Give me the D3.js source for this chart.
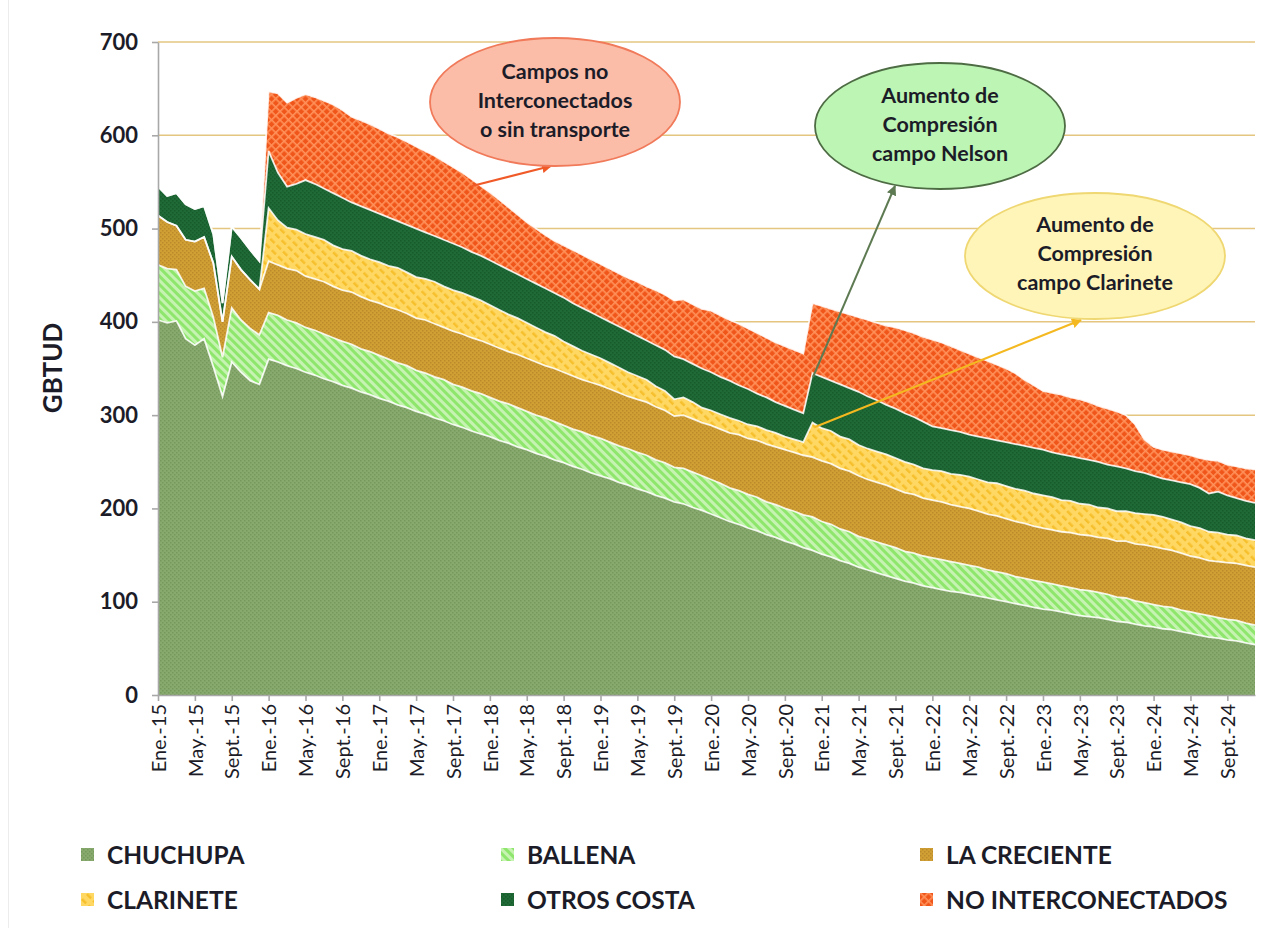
<!DOCTYPE html>
<html>
<head>
<meta charset="utf-8">
<script src="https://cdn.jsdelivr.net/npm/d3@7"></script>
<style>
  body { margin: 0; background: #fff; }
  #chart { width: 1280px; height: 928px; }
  text { font-family: Lato, 'Open Sans', sans-serif; fill: #1c1c28; }
</style>
</head>
<body>
<div id="chart"></div>
<script>
(function () {

    // categorias: meses de Ene.-15 a Dic.-24
    const meses = ['Ene.', 'Feb.', 'Mar.', 'Abr.', 'May.', 'Jun.', 'Jul.', 'Ago.', 'Sept.', 'Oct.', 'Nov.', 'Dic.'];
    const anios = ['15', '16', '17', '18', '19', '20', '21', '22', '23', '24'];
    const categorias = anios.flatMap(a => meses.map(m => `${m}-${a}`));
    const etiquetasX = categorias.filter((d, i) => i % 4 === 0);
    const ticksY = [0, 100, 200, 300, 400, 500, 600, 700];

    // GBTUD por campo
    const chuchupa = [402, 399, 401, 382, 375, 382, 352, 320, 357, 346, 337, 333, 360,
        357, 353, 350, 346, 343, 339, 336, 332, 329, 325, 322, 318, 315, 311, 308, 304, 301, 297, 294, 290, 287, 283, 280,
        277, 273, 270, 266, 263, 259, 256, 252, 249, 245, 242, 238, 235, 232, 228, 225, 221, 218, 214, 211, 207, 205, 201, 198,
        194, 190, 186, 183, 179, 176, 172, 169, 165, 162, 158, 155, 151, 148, 144, 141, 137, 134, 131, 128,
        125, 122, 120, 117, 115, 113, 111, 110, 108, 106, 104, 102, 100, 98, 96, 94, 92, 91, 89, 87,
        85, 84, 83, 81, 79, 78, 76, 74, 73, 71, 70, 68, 66, 64, 62, 61, 59, 58, 56, 54];

    const ballena = [59, 58, 55, 56, 58, 54, 53, 42, 58, 56, 56, 53, 50,
        50, 49, 49, 48, 48, 48, 47, 47, 47, 46, 46, 46, 45, 45, 45, 44, 44, 44, 44, 43, 43, 43, 43,
        42, 42, 42, 42, 41, 41, 41, 41, 40, 40, 40, 40, 40, 39, 39, 39, 39, 39, 38, 38, 37, 38, 38, 37,
        37, 37, 36, 36, 36, 36, 35, 35, 35, 35, 35, 36, 35, 35, 34, 34, 33, 33, 33, 33,
        33, 32, 32, 32, 32, 32, 32, 31, 31, 31, 30, 30, 30, 29, 29, 29, 29, 28, 28, 28,
        28, 28, 27, 27, 26, 26, 25, 25, 24, 24, 24, 23, 23, 23, 23, 22, 22, 22, 21, 21];

    const laCreciente = [53, 50, 47, 50, 53, 55, 58, 38, 55, 54, 52, 49, 55,
        54, 55, 56, 55, 55, 56, 55, 55, 56, 56, 55, 56, 56, 57, 56, 56, 57, 57, 56, 57, 57, 57, 57,
        57, 57, 56, 57, 57, 57, 56, 57, 57, 57, 56, 57, 57, 57, 57, 56, 57, 57, 57, 56, 55, 57, 57, 57,
        58, 58, 59, 60, 60, 61, 62, 62, 63, 63, 64, 64, 65, 65, 65, 65, 65, 64, 64, 64,
        63, 63, 63, 62, 62, 62, 61, 61, 61, 60, 60, 60, 59, 59, 59, 58, 58, 58, 58, 59,
        59, 59, 59, 60, 60, 61, 61, 62, 62, 62, 61, 61, 60, 60, 59, 60, 61, 61, 62, 62];

    const clarinete = [0, 0, 0, 0, 0, 0, 0, 0, 0, 0, 0, 0, 57,
        48, 44, 44, 45, 45, 45, 44, 44, 44, 44, 44, 44, 44, 45, 44, 44, 44, 45, 44, 44, 44, 44, 43,
        42, 41, 40, 39, 38, 37, 36, 35, 33, 32, 31, 30, 29, 28, 27, 26, 25, 24, 22, 21, 18, 19, 18, 16,
        16, 16, 16, 15, 15, 15, 15, 15, 14, 14, 14, 37, 35, 35, 34, 34, 33, 33, 33, 33,
        33, 33, 32, 32, 32, 33, 33, 34, 34, 34, 34, 35, 35, 35, 35, 35, 35, 35, 34, 34,
        33, 33, 32, 32, 32, 32, 33, 33, 34, 34, 33, 33, 32, 32, 31, 31, 30, 30, 29, 29];

    const otrosCosta = [31, 28, 35, 38, 35, 33, 31, 20, 32, 34, 32, 30, 61,
        51, 44, 49, 58, 57, 55, 56, 55, 52, 53, 53, 52, 52, 50, 51, 52, 50, 49, 50, 50, 49, 48, 48,
        48, 48, 48, 47, 47, 47, 47, 46, 47, 46, 46, 45, 44, 44, 44, 44, 43, 42, 44, 44, 46, 41, 41, 42,
        41, 40, 40, 38, 38, 35, 35, 33, 33, 32, 31, 53, 55, 54, 56, 55, 57, 56, 55, 53,
        53, 52, 51, 50, 47, 46, 47, 46, 45, 46, 47, 46, 47, 48, 48, 49, 49, 48, 49, 48,
        49, 48, 49, 47, 48, 46, 45, 44, 42, 41, 42, 43, 45, 43, 41, 44, 42, 40, 40, 40];

    const noInterconectados = [0, 0, 0, 0, 0, 0, 0, 0, 0, 0, 0, 0, 64,
        85, 90, 92, 92, 93, 94, 95, 94, 92, 92, 92, 91, 90, 90, 89, 88, 87, 86, 84, 82, 80, 78, 75,
        73, 70, 67, 64, 61, 59, 57, 56, 56, 57, 57, 57, 57, 57, 57, 57, 58, 58, 59, 59, 60, 64, 64, 64,
        66, 66, 65, 66, 65, 65, 64, 64, 64, 64, 64, 75, 76, 77, 78, 79, 80, 82, 83, 85,
        87, 89, 90, 91, 93, 92, 90, 88, 87, 85, 83, 81, 79, 76, 71, 67, 63, 64, 64, 63,
        63, 62, 60, 60, 59, 57, 50, 36, 31, 31, 31, 31, 31, 32, 36, 33, 33, 34, 35, 36];

    const SERIES = [
        { key: 'chuchupa', label: 'CHUCHUPA', values: chuchupa },
        { key: 'ballena', label: 'BALLENA', values: ballena },
        { key: 'laCreciente', label: 'LA CRECIENTE', values: laCreciente },
        { key: 'clarinete', label: 'CLARINETE', values: clarinete },
        { key: 'otrosCosta', label: 'OTROS COSTA', values: otrosCosta },
        { key: 'noInterconectados', label: 'NO INTERCONECTADOS', values: noInterconectados }
    ];

    const COLORS = {
        grid: '#e4c680',
        axis: '#a8a8a8'
    };

    const svg = d3.select('#chart').append('svg')
        .attr('width', 1280)
        .attr('height', 928);

    // faint frame line at the left (screenshot border)
    svg.append('line')
        .attr('x1', 8.5).attr('x2', 8.5).attr('y1', 0).attr('y2', 928)
        .attr('stroke', '#ececec');

    const defs = svg.append('defs');

    // fine two-tone texture
    const dotPattern = function(id, base, dot) {
        const p = defs.append('pattern').attr('id', id)
            .attr('patternUnits', 'userSpaceOnUse')
            .attr('width', 4).attr('height', 4);
        p.append('rect').attr('width', 4).attr('height', 4).attr('fill', base);
        p.append('rect').attr('x', 0).attr('y', 0).attr('width', 1.5).attr('height', 1.5).attr('fill', dot);
        p.append('rect').attr('x', 2).attr('y', 2).attr('width', 1.5).attr('height', 1.5).attr('fill', dot);
    };

    // diagonal stripes going down to the right
    const stripePattern = function(id, base, stripe, w, h, sw, sh) {
        const p = defs.append('pattern').attr('id', id)
            .attr('patternUnits', 'userSpaceOnUse')
            .attr('width', w).attr('height', h)
            .attr('patternTransform', 'rotate(-45)');
        p.append('rect').attr('width', w).attr('height', h).attr('fill', base);
        p.append('rect').attr('width', sw).attr('height', sh).attr('fill', stripe);
    };

    dotPattern('pat-chuchupa', '#88aa6e', '#75985b');
    stripePattern('pat-ballena', '#c6f3b2', '#8ee66c', 6, 6, 3, 6);
    dotPattern('pat-laCreciente', '#d1a035', '#bb8a2a');
    stripePattern('pat-clarinete', '#ffd863', '#f6bf2c', 7, 9, 2.5, 6);
    dotPattern('pat-otrosCosta', '#1f6a36', '#175a2b');

    const pNo = defs.append('pattern').attr('id', 'pat-noInterconectados')
        .attr('patternUnits', 'userSpaceOnUse')
        .attr('width', 6).attr('height', 6)
        .attr('patternTransform', 'rotate(45)');
    pNo.append('rect').attr('width', 6).attr('height', 6).attr('fill', '#f0561a');
    pNo.append('rect').attr('width', 1.6).attr('height', 6).attr('fill', '#ff915a');
    pNo.append('rect').attr('width', 6).attr('height', 1.6).attr('fill', '#ff915a');

    const x = d3.scalePoint()
        .domain(categorias)
        .range([158, 1255]);

    const y = d3.scaleLinear()
        .domain([0, 700])
        .range([695, 42]);

    // gridlines
    svg.append('g')
        .selectAll('line')
        .data(ticksY.filter(d => d > 0))
        .enter()
        .append('line')
        .attr('x1', 158).attr('x2', 1255)
        .attr('y1', d => y(d)).attr('y2', d => y(d))
        .attr('stroke', COLORS.grid)
        .attr('stroke-width', 1.5);

    const rows = categorias.map((c, i) => {
        const r = { cat: c };
        SERIES.forEach(s => { r[s.key] = s.values[i]; });
        return r;
    });

    const stacked = d3.stack()
        .keys(SERIES.map(s => s.key))
        .order(d3.stackOrderNone)
        .offset(d3.stackOffsetNone)(rows);

    const area = d3.area()
        .x(d => x(d.data.cat))
        .y0(d => y(d[0]))
        .y1(d => y(d[1]));

    const topLine = d3.line()
        .x(d => x(d.data.cat))
        .y(d => y(d[1]));

    svg.append('g')
        .selectAll('path')
        .data(stacked)
        .enter()
        .append('path')
        .attr('d', area)
        .attr('fill', d => `url(#pat-${d.key})`);

    // white border on top of each layer
    svg.append('g')
        .selectAll('path')
        .data(stacked)
        .enter()
        .append('path')
        .attr('d', topLine)
        .attr('fill', 'none')
        .attr('stroke', '#ffffff')
        .attr('stroke-opacity', 0.85)
        .attr('stroke-width', 1.8);

    // axes
    const yAxis = svg.append('g')
        .attr('transform', 'translate(158,0)')
        .call(d3.axisLeft(y).tickValues(ticksY).tickSize(6).tickPadding(14).tickSizeOuter(0));

    yAxis.selectAll('text')
        .style('font-size', '22px')
        .style('font-weight', 'bold')
        .style('font-family', 'Lato, sans-serif')
        .attr('fill', '#262630');

    const xAxis = svg.append('g')
        .attr('transform', 'translate(0,695)')
        .call(d3.axisBottom(x).tickValues(etiquetasX).tickSize(6).tickSizeOuter(0));

    xAxis.selectAll('text')
        .attr('transform', 'rotate(-90)')
        .attr('text-anchor', 'end')
        .attr('x', -9)
        .attr('y', 0)
        .attr('dy', '0.36em')
        .style('font-size', '20px')
        .style('font-family', 'Lato, sans-serif')
        .attr('fill', '#141420');

    svg.selectAll('.domain, .tick line')
        .attr('stroke', COLORS.axis)
        .attr('stroke-width', 1.6);

    // y axis title
    svg.append('text')
        .attr('transform', 'translate(62,368) rotate(-90)')
        .attr('text-anchor', 'middle')
        .style('font-size', '26px')
        .style('font-weight', 'bold')
        .text('GBTUD');

    // annotations
    const notes = [
        { cx: 555, cy: 102, rx: 125, ry: 64, fill: '#fbbda8', stroke: '#f07a5a',
          lines: ['Campos no', 'Interconectados', 'o sin transporte'], y0: 79,
          arrow: [[472, 186], [551, 166]], arrowColor: '#f05a28' },
        { cx: 940, cy: 126, rx: 125, ry: 63, fill: '#bdf5b5', stroke: '#4e6c44',
          lines: ['Aumento de', 'Compresión', 'campo Nelson'], y0: 103,
          arrow: [[813, 377], [895, 186]], arrowColor: '#5d7a52' },
        { cx: 1095, cy: 256, rx: 130, ry: 63, fill: '#fff5b9', stroke: '#efd772',
          lines: ['Aumento de', 'Compresión', 'campo Clarinete'], y0: 232,
          arrow: [[815, 427], [1081, 320]], arrowColor: '#f4b820' }
    ];

    notes.forEach((n, i) => {
        defs.append('marker')
            .attr('id', `arrow-${i}`)
            .attr('viewBox', '0 0 10 10')
            .attr('refX', 9).attr('refY', 5)
            .attr('markerWidth', 5).attr('markerHeight', 5)
            .attr('orient', 'auto')
            .append('path')
            .attr('d', 'M0,0L10,5L0,10Z')
            .attr('fill', n.arrowColor);

        svg.append('line')
            .attr('x1', n.arrow[0][0]).attr('y1', n.arrow[0][1])
            .attr('x2', n.arrow[1][0]).attr('y2', n.arrow[1][1])
            .attr('stroke', n.arrowColor)
            .attr('stroke-width', 2)
            .attr('marker-end', `url(#arrow-${i})`);

        svg.append('ellipse')
            .attr('cx', n.cx).attr('cy', n.cy)
            .attr('rx', n.rx).attr('ry', n.ry)
            .attr('fill', n.fill)
            .attr('stroke', n.stroke)
            .attr('stroke-width', 1.8);

        svg.append('text')
            .attr('text-anchor', 'middle')
            .style('font-size', '21.5px')
            .style('font-weight', 'bold')
            .selectAll('tspan')
            .data(n.lines)
            .enter()
            .append('tspan')
            .attr('x', n.cx)
            .attr('y', (d, j) => n.y0 + j * 29)
            .text(d => d);
    });

    // legend: 2 rows x 3 columns
    const legendCols = [81, 501, 920];
    const legendRows = [855, 900];

    const legendItem = svg.append('g')
        .selectAll('g')
        .data(SERIES)
        .enter()
        .append('g')
        .attr('transform', (d, i) => `translate(${legendCols[i % 3]},${legendRows[Math.floor(i / 3)]})`);

    legendItem.append('rect')
        .attr('x', 0).attr('y', -7)
        .attr('width', 13).attr('height', 13)
        .attr('fill', d => `url(#pat-${d.key})`);

    legendItem.append('text')
        .attr('x', 26)
        .attr('y', 0)
        .attr('dy', '0.36em')
        .style('font-size', '24.5px')
        .style('font-weight', 'bold')
        .text(d => d.label);

})();
</script>
</body>
</html>
